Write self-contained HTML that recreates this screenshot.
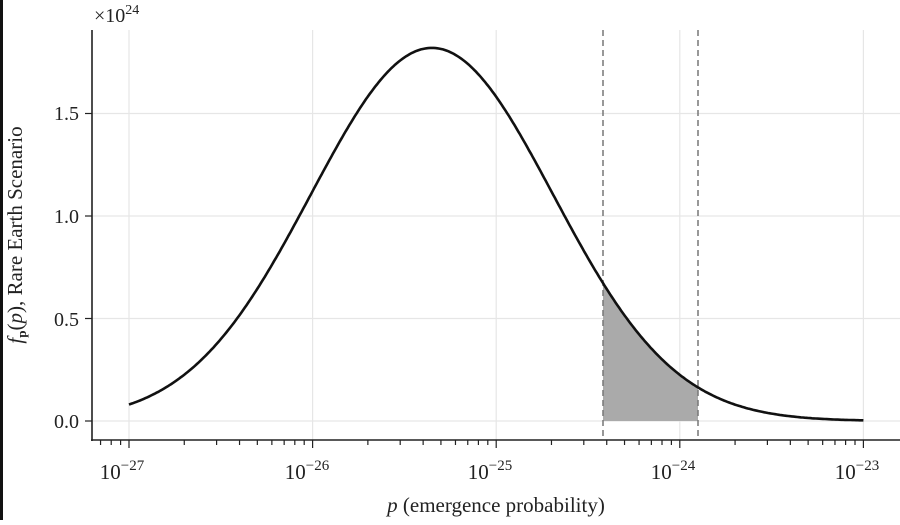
<!DOCTYPE html>
<html><head><meta charset="utf-8"><style>
body{margin:0;background:#fff;}
svg text{font-family:"Liberation Serif",serif;fill:#222;}
</style></head><body>
<svg id="s" width="900" height="520" viewBox="0 0 900 520" xmlns="http://www.w3.org/2000/svg">
<rect x="0" y="0" width="3" height="520" fill="#111"/>
<g id="grid" stroke="#e6e6e6" stroke-width="1.2"></g>
<path id="fill" fill="#aaaaaa" stroke="none"/>
<line x1="603" y1="30" x2="603" y2="440" stroke="#777" stroke-width="1.5" stroke-dasharray="6,4"/>
<line x1="698" y1="30" x2="698" y2="440" stroke="#777" stroke-width="1.5" stroke-dasharray="6,4"/>
<path id="curve" fill="none" stroke="#111" stroke-width="2.6"/>
<line x1="92" y1="30" x2="92" y2="441" stroke="#222" stroke-width="1.6"/>
<line x1="91" y1="440" x2="900" y2="440" stroke="#222" stroke-width="1.6"/>
<g id="ticks" stroke="#222" stroke-width="1.2"></g>
<g font-size="20" text-anchor="end">
<text x="79" y="428">0.0</text>
<text x="79" y="326">0.5</text>
<text x="79" y="223">1.0</text>
<text x="79" y="120">1.5</text>
</g>
<text x="94" y="22" font-size="20">×10<tspan font-size="14" dy="-8">24</tspan></text>
<g font-size="21" text-anchor="middle">
<text x="122" y="479">10<tspan font-size="15" dy="-9">−27</tspan></text>
<text x="307" y="479">10<tspan font-size="15" dy="-9">−26</tspan></text>
<text x="490" y="479">10<tspan font-size="15" dy="-9">−25</tspan></text>
<text x="673" y="479">10<tspan font-size="15" dy="-9">−24</tspan></text>
<text x="857" y="479">10<tspan font-size="15" dy="-9">−23</tspan></text>
</g>
<text x="496" y="512" font-size="21" text-anchor="middle"><tspan font-style="italic">p</tspan> (emergence probability)</text>
<text transform="translate(22,235) rotate(-90)" font-size="21" text-anchor="middle"><tspan font-style="italic">f</tspan><tspan font-size="13" font-weight="bold" dy="4">p</tspan><tspan dy="-4">(</tspan><tspan font-style="italic">p</tspan>), Rare Earth Scenario</text>
</svg>
<script>
var X0=129,D=183.6,Y0=421,S=205;
function xp(l){return X0+(l+27)*D}
function f(l){var d=l+25.35;return 1.82*Math.exp(-d*d/(2*0.436))}
var g=document.getElementById('grid'),t=document.getElementById('ticks'),h='',k='';
for(var e=-27;e<=-23;e++){var x=xp(e);h+='<line x1="'+x+'" y1="30" x2="'+x+'" y2="440"/>';k+='<line x1="'+x+'" y1="440" x2="'+x+'" y2="448"/>';
 if(e<-23)for(var m=2;m<10;m++){var xm=xp(e+Math.log10(m));k+='<line x1="'+xm+'" y1="440" x2="'+xm+'" y2="445"/>';}}
for(var m=2;m<10;m++){var xm=xp(-28+Math.log10(m));if(xm>92)k+='<line x1="'+xm+'" y1="440" x2="'+xm+'" y2="445"/>';}
[0,0.5,1,1.5].forEach(function(v){var y=Y0-v*S;h+='<line x1="92" y1="'+y+'" x2="900" y2="'+y+'"/>';k+='<line x1="85" y1="'+y+'" x2="92" y2="'+y+'"/>';});
g.innerHTML=h;t.innerHTML=k;
var p='';for(var l=-27;l<=-23.0001;l+=0.01){p+=(p?'L':'M')+xp(l).toFixed(1)+','+(Y0-f(l)*S).toFixed(1);}
p+='L'+xp(-23)+','+(Y0-f(-23)*S);
document.getElementById('curve').setAttribute('d',p);
var a=(603-X0)/D-27,b=(698-X0)/D-27,q='M603,'+Y0;
for(var l=a;l<=b;l+=0.005)q+='L'+xp(l).toFixed(1)+','+(Y0-f(l)*S).toFixed(1);
q+='L698,'+(Y0-f(b)*S)+'L698,'+Y0+'Z';
document.getElementById('fill').setAttribute('d',q);
</script>
</body></html>
